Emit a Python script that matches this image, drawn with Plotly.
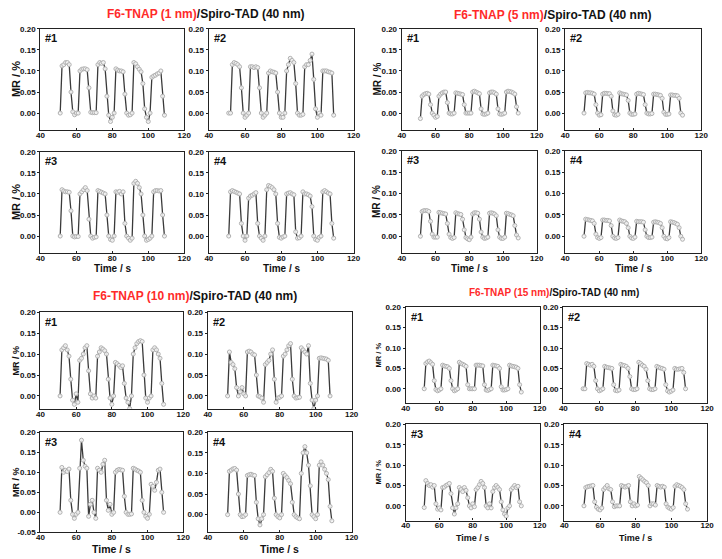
import plotly.graph_objects as go

# ---------------- data ----------------
time_s = list(range(51, 110))

# F6-TNAP (1 nm)/Spiro-TAD (40 nm)
mr_1nm_1 = [0.000, 0.112, 0.115, 0.120, 0.120, 0.115, 0.050, 0.003, -0.004, 0.000,
            0.000, 0.100, 0.104, 0.105, 0.105, 0.103, 0.060, 0.002, 0.001, 0.001,
            0.001, 0.115, 0.120, 0.118, 0.120, 0.105, 0.040, -0.005, -0.020, -0.010,
            0.000, 0.105, 0.102, 0.100, 0.100, 0.098, 0.045, 0.000, -0.005, -0.004,
            0.000, 0.120, 0.117, 0.110, 0.104, 0.098, 0.070, 0.010, -0.010, -0.020,
            0.000, 0.085, 0.088, 0.090, 0.093, 0.095, 0.100, 0.040, -0.005]
mr_1nm_2 = [0.000, 0.000, 0.115, 0.120, 0.118, 0.115, 0.110, 0.060, 0.000, -0.010,
            -0.005, 0.000, 0.110, 0.110, 0.108, 0.110, 0.108, 0.060, 0.000, -0.010,
            -0.005, 0.000, 0.095, 0.100, 0.098, 0.097, 0.095, 0.050, 0.000, -0.010,
            -0.010, 0.000, 0.100, 0.115, 0.130, 0.125, 0.120, 0.070, 0.000, -0.005,
            -0.005, -0.003, 0.110, 0.115, 0.115, 0.125, 0.140, 0.080, 0.010, -0.010,
            0.000, -0.005, 0.100, 0.100, 0.100, 0.098, 0.097, 0.095, -0.005]
mr_1nm_3 = [0.000, 0.110, 0.107, 0.105, 0.105, 0.104, 0.060, 0.000, -0.002, -0.001,
            -0.001, 0.100, 0.105, 0.110, 0.115, 0.108, 0.040, 0.000, -0.005, -0.003,
            -0.002, 0.108, 0.106, 0.104, 0.102, 0.100, 0.050, 0.000, -0.008, -0.010,
            0.000, 0.105, 0.104, 0.106, 0.100, 0.105, 0.030, 0.000, -0.005, -0.010,
            -0.005, 0.125, 0.130, 0.125, 0.115, 0.100, 0.050, 0.000, -0.010, -0.008,
            -0.005, 0.000, 0.105, 0.108, 0.108, 0.107, 0.108, 0.050, 0.000]
mr_1nm_4 = [0.000, 0.105, 0.108, 0.106, 0.104, 0.102, 0.100, 0.030, 0.000, -0.010,
            0.000, 0.090, 0.095, 0.097, 0.100, 0.103, 0.030, 0.000, -0.005, -0.010,
            0.000, 0.110, 0.120, 0.118, 0.115, 0.110, 0.100, 0.030, -0.003, -0.005,
            -0.002, 0.000, 0.100, 0.102, 0.103, 0.100, 0.098, 0.010, -0.005, -0.004,
            0.000, 0.105, 0.100, 0.100, 0.098, 0.095, 0.070, 0.000, -0.008, -0.010,
            -0.003, 0.000, 0.105, 0.108, 0.105, 0.102, 0.100, 0.030, -0.005]

# F6-TNAP (5 nm)/Spiro-TAD (40 nm)
mr_5nm_1 = [-0.013, 0.040, 0.044, 0.046, 0.047, 0.045, 0.020, 0.000, -0.005, -0.010,
            -0.008, 0.040, 0.045, 0.048, 0.050, 0.050, 0.025, 0.000, -0.002, -0.002,
            0.000, 0.048, 0.047, 0.046, 0.045, 0.044, 0.020, 0.000, 0.000, 0.000,
            0.000, 0.050, 0.052, 0.050, 0.048, 0.046, 0.010, -0.002, -0.003, -0.002,
            0.000, 0.048, 0.050, 0.050, 0.048, 0.045, 0.010, -0.002, -0.003, -0.002,
            0.000, 0.050, 0.052, 0.051, 0.050, 0.048, 0.045, 0.015, 0.000]
mr_5nm_2 = [0.000, 0.048, 0.049, 0.048, 0.048, 0.047, 0.045, 0.020, 0.000, -0.005,
            -0.004, 0.045, 0.047, 0.047, 0.046, 0.046, 0.040, 0.005, -0.004, -0.005,
            -0.003, 0.048, 0.046, 0.045, 0.044, 0.043, 0.030, 0.000, -0.003, -0.003,
            -0.002, 0.045, 0.047, 0.046, 0.045, 0.044, 0.020, 0.000, -0.002, -0.002,
            -0.001, 0.045, 0.045, 0.044, 0.043, 0.042, 0.035, 0.002, -0.003, -0.003,
            -0.002, 0.043, 0.043, 0.042, 0.042, 0.041, 0.035, 0.000, -0.005]
mr_5nm_3 = [0.000, 0.058, 0.060, 0.060, 0.060, 0.058, 0.035, 0.005, -0.002, -0.002,
            -0.002, 0.056, 0.055, 0.054, 0.053, 0.052, 0.030, 0.005, -0.003, -0.005,
            -0.003, 0.055, 0.053, 0.052, 0.051, 0.040, 0.015, -0.003, -0.006, -0.008,
            -0.002, 0.052, 0.055, 0.055, 0.054, 0.040, 0.010, -0.002, -0.005, -0.004,
            -0.002, 0.054, 0.055, 0.054, 0.052, 0.048, 0.015, -0.002, -0.005, -0.005,
            -0.002, 0.054, 0.053, 0.051, 0.050, 0.048, 0.025, 0.003, -0.004]
mr_5nm_4 = [0.000, 0.040, 0.039, 0.038, 0.037, 0.036, 0.030, 0.005, -0.003, -0.005,
            -0.003, 0.038, 0.038, 0.037, 0.037, 0.036, 0.025, 0.000, -0.004, -0.005,
            -0.003, 0.038, 0.036, 0.035, 0.034, 0.030, 0.020, 0.000, -0.004, -0.005,
            -0.002, 0.035, 0.034, 0.034, 0.034, 0.033, 0.015, 0.000, -0.003, -0.003,
            -0.002, 0.033, 0.034, 0.033, 0.032, 0.030, 0.020, 0.000, -0.005, -0.006,
            -0.003, 0.034, 0.033, 0.032, 0.030, 0.028, 0.020, 0.000, -0.007]

# F6-TNAP (10 nm)/Spiro-TAD (40 nm)
mr_10nm_1 = [0.000, 0.110, 0.115, 0.120, 0.110, 0.095, 0.040, -0.010, -0.020, 0.005,
             -0.015, 0.085, 0.090, 0.100, 0.115, 0.120, 0.060, 0.005, -0.005, 0.000,
             -0.005, 0.095, 0.105, 0.115, 0.112, 0.108, 0.100, 0.040, -0.005, -0.020,
             0.000, 0.080, 0.077, 0.073, 0.068, 0.072, 0.030, -0.005, -0.015, -0.030,
             0.000, 0.100, 0.115, 0.125, 0.130, 0.132, 0.130, 0.050, -0.005, -0.015,
             -0.005, 0.000, 0.110, 0.115, 0.110, 0.100, 0.090, 0.030, -0.020]
mr_10nm_2 = [0.000, 0.105, 0.080, 0.075, 0.065, 0.020, 0.000, 0.010, 0.020, 0.005,
             0.000, 0.105, 0.107, 0.105, 0.100, 0.098, 0.050, 0.000, -0.002, -0.005,
             -0.015, 0.075, 0.080, 0.085, 0.100, 0.110, 0.040, -0.015, -0.005, -0.003,
             0.000, 0.095, 0.100, 0.110, 0.120, 0.125, 0.040, 0.000, -0.005, -0.004,
             -0.003, 0.115, 0.110, 0.105, 0.100, 0.120, 0.030, -0.010, -0.030, -0.010,
             0.000, 0.090, 0.091, 0.090, 0.089, 0.088, 0.085, 0.000, None]
mr_10nm_3 = [0.000, 0.112, 0.100, 0.105, 0.102, 0.108, 0.030, -0.005, -0.015, -0.005,
             0.000, 0.110, 0.180, 0.130, 0.115, 0.110, -0.010, 0.020, 0.030, 0.000,
             -0.015, 0.110, 0.105, 0.100, 0.120, 0.130, 0.030, 0.005, 0.020, -0.005,
             0.000, 0.100, 0.105, 0.107, 0.106, 0.105, 0.040, 0.000, -0.005, -0.005,
             -0.004, 0.110, 0.108, 0.105, 0.103, 0.100, 0.030, 0.000, -0.010, -0.015,
             -0.005, 0.070, 0.065, 0.055, 0.075, 0.105, 0.108, 0.050, 0.000]
mr_10nm_4 = [0.000, 0.105, 0.108, 0.111, 0.112, 0.108, 0.050, 0.000, -0.005, -0.004,
             0.000, 0.095, 0.097, 0.098, 0.096, 0.095, 0.030, -0.010, -0.025, -0.010,
             0.000, 0.092, 0.097, 0.102, 0.110, 0.105, 0.040, 0.000, -0.005, -0.008,
             0.000, 0.100, 0.095, 0.090, 0.083, 0.075, 0.030, 0.000, -0.005, -0.008,
             -0.010, 0.100, 0.150, 0.165, 0.150, 0.120, 0.070, 0.000, -0.005, -0.010,
             0.000, 0.120, 0.128, 0.120, 0.110, 0.100, 0.085, 0.020, -0.015]

# F6-TNAP (15 nm)/Spiro-TAD (40 nm)
mr_15nm_1 = [0.000, 0.062, 0.066, 0.068, 0.064, 0.060, 0.020, -0.002, -0.005, -0.003,
             0.000, 0.058, 0.056, 0.055, 0.054, 0.050, 0.020, 0.000, -0.005, -0.003,
             0.000, 0.065, 0.062, 0.060, 0.058, 0.055, 0.010, 0.000, 0.000, 0.000,
             0.000, 0.058, 0.058, 0.058, 0.057, 0.056, 0.010, -0.003, -0.004, -0.002,
             0.000, 0.058, 0.057, 0.056, 0.055, 0.050, 0.005, -0.003, -0.003, -0.002,
             0.000, 0.058, 0.056, 0.055, 0.054, 0.053, 0.050, 0.010, -0.008]
mr_15nm_2 = [0.000, 0.000, 0.062, 0.060, 0.058, 0.060, 0.055, 0.020, 0.000, -0.005,
             -0.003, 0.000, 0.055, 0.053, 0.052, 0.051, 0.050, 0.010, -0.004, -0.005,
             -0.003, 0.060, 0.058, 0.057, 0.055, 0.050, 0.030, 0.000, -0.002, -0.002,
             0.000, 0.065, 0.062, 0.058, 0.055, 0.048, 0.020, 0.000, -0.002, -0.002,
             0.000, 0.055, 0.053, 0.051, 0.050, 0.048, 0.010, -0.005, -0.008, -0.006,
             -0.003, 0.050, 0.048, 0.048, 0.049, 0.050, 0.040, 0.000, None]
mr_15nm_3 = [-0.004, 0.062, 0.055, 0.050, 0.052, 0.046, 0.050, 0.005, -0.008, -0.005,
             -0.010, 0.045, 0.046, 0.050, 0.052, 0.055, 0.030, -0.005, -0.020, -0.005,
             0.005, 0.045, 0.040, 0.035, 0.045, 0.038, 0.020, 0.000, -0.005, 0.005,
             -0.002, 0.040, 0.045, 0.052, 0.060, 0.055, 0.045, 0.000, -0.005, 0.005,
             -0.005, 0.035, 0.045, 0.050, 0.045, 0.040, 0.010, -0.010, -0.020, -0.025,
             -0.005, 0.000, 0.040, 0.045, 0.050, 0.045, 0.048, 0.010, 0.000]
mr_15nm_4 = [0.000, 0.045, 0.047, 0.048, 0.049, 0.050, 0.010, -0.003, -0.008, -0.010,
             -0.005, 0.040, 0.045, 0.050, 0.042, 0.040, 0.010, -0.002, 0.000, 0.000,
             0.000, 0.050, 0.048, 0.046, 0.048, 0.050, 0.010, 0.000, 0.005, 0.000,
             0.002, 0.072, 0.068, 0.064, 0.060, 0.057, 0.050, 0.000, 0.005, 0.005,
             0.002, 0.050, 0.048, 0.046, 0.048, 0.046, 0.005, -0.003, -0.006, -0.008,
             -0.004, 0.048, 0.052, 0.050, 0.048, 0.045, 0.040, 0.005, -0.008]

group_titles = ["F6-TNAP (1 nm)", "F6-TNAP (5 nm)", "F6-TNAP (10 nm)", "F6-TNAP (15 nm)"]
title_suffix = "/Spiro-TAD (40 nm)"
panel_labels = ["#1", "#2", "#3", "#4"]
x_ticks = [40, 60, 80, 100, 120]
y_ticks = [-0.05, 0.00, 0.05, 0.10, 0.15, 0.20]

series = [mr_1nm_1, mr_1nm_2, mr_1nm_3, mr_1nm_4,
          mr_5nm_1, mr_5nm_2, mr_5nm_3, mr_5nm_4,
          mr_10nm_1, mr_10nm_2, mr_10nm_3, mr_10nm_4,
          mr_15nm_1, mr_15nm_2, mr_15nm_3, mr_15nm_4]

# ---------------- layout geometry (pixels) ----------------
W, H = 722, 559
# (left, right, top, bottom) for each panel
boxes = [
    (37, 183, 25, 128), (208, 355, 25, 128), (37, 183, 150, 253), (208, 355, 150, 253),
    (404, 541, 25, 128), (570, 708, 25, 128), (404, 541, 149, 253), (570, 708, 149, 253),
    (37, 182, 313, 412), (207, 353, 313, 412), (37, 182, 435, 537), (207, 353, 435, 537),
    (408, 544, 308, 406), (568, 714, 308, 406), (408, 544, 427, 525), (569, 714, 427, 525),
]
y_lows = [-0.04, -0.04, -0.04, -0.04,
          -0.04, -0.04, -0.039, -0.039,
          -0.032, -0.032, -0.05, -0.043,
          -0.036, -0.036, -0.036, -0.036]
title_pos = [(205, 10, 12), (557, 11, 12), (194, 297, 12), (559, 293, 10)]
mr_label = [(12, 11), (379, 10), (12, 9), (380, 7.5)]
time_label = [(269, 10), (269, 10), (554, 10.5), (543, 9)]

def fx(px):
    return px / W

def fy(py):
    return 1 - py / H

FONT = "Liberation Sans, Arial, sans-serif"
fig = go.Figure()
layout = dict(
    width=W, height=H, autosize=False,
    margin=dict(l=0, r=0, t=0, b=0),
    paper_bgcolor="white", plot_bgcolor="white",
    showlegend=False,
    font=dict(family=FONT, color="#111"),
)
annotations = []

for i, ys in enumerate(series):
    n = i + 1
    xa = "x" if n == 1 else f"x{n}"
    ya = "y" if n == 1 else f"y{n}"
    fig.add_trace(go.Scatter(
        x=time_s, y=ys, xaxis=xa, yaxis=ya, mode="lines+markers",
        line=dict(color="#3a3a3a", width=1.3),
        marker=dict(symbol="circle", size=4, color="rgba(245,245,245,0.9)",
                    line=dict(color="#b0b0b0", width=1)),
        connectgaps=False, cliponaxis=True,
    ))
    l, r, t, b = boxes[i]
    y_lo = y_lows[i]
    common = dict(showline=True, linecolor="#222", linewidth=1.4, mirror=True,
                  tickwidth=1, tickcolor="#222",
                  showgrid=False, zeroline=False,
                  tickfont=dict(family=FONT, size=8, color="#111", weight="bold"))
    layout[f"xaxis{n}" if n > 1 else "xaxis"] = dict(
        domain=[fx(l), fx(r)], anchor=ya, range=[40, 120],
        ticks="inside", ticklen=2, ticklabelstandoff=-3,
        tickvals=x_ticks, ticktext=[str(v) for v in x_ticks], **common)
    yt = [v for v in y_ticks if v >= y_lo - 1e-9]
    layout[f"yaxis{n}" if n > 1 else "yaxis"] = dict(
        domain=[fy(b), fy(t)], anchor=xa, range=[y_lo, 0.2005],
        ticks="outside", ticklen=2,
        tickvals=yt, ticktext=[f"{v:.2f}" for v in yt], **common)
    annotations.append(dict(
        x=fx(l + 3), y=fy(t + 10), xref="paper", yref="paper",
        text=f"<b>{panel_labels[i % 4]}</b>", showarrow=False,
        xanchor="left", yanchor="middle",
        font=dict(family=FONT, size=11, color="#111")))

for g in range(4):
    cx, cy, fs = title_pos[g]
    annotations.append(dict(
        x=fx(cx), y=fy(cy), xref="paper", yref="paper", showarrow=False,
        xanchor="center", yanchor="middle",
        text=f"<b><span style='color:#ff2a2a'>{group_titles[g]}</span>{title_suffix}</b>",
        font=dict(family=FONT, size=fs, color="#111")))
    mx, ms = mr_label[g]
    for k in (0, 2):
        l, r, t, b = boxes[4 * g + k]
        annotations.append(dict(
            x=fx(mx), y=fy((t + b) / 2), xref="paper", yref="paper",
            showarrow=False, textangle=-90, xanchor="center", yanchor="middle",
            text="<b>MR / %</b>", font=dict(family=FONT, size=ms, color="#111")))
    ty, ts = time_label[g]
    for k in (2, 3):
        l, r, t, b = boxes[4 * g + k]
        annotations.append(dict(
            x=fx((l + r) / 2), y=fy(ty), xref="paper", yref="paper",
            showarrow=False, xanchor="center", yanchor="middle",
            text="<b>Time / s</b>", font=dict(family=FONT, size=ts, color="#111")))

layout["annotations"] = annotations
fig.update_layout(**layout)
fig.write_html("out.html")
